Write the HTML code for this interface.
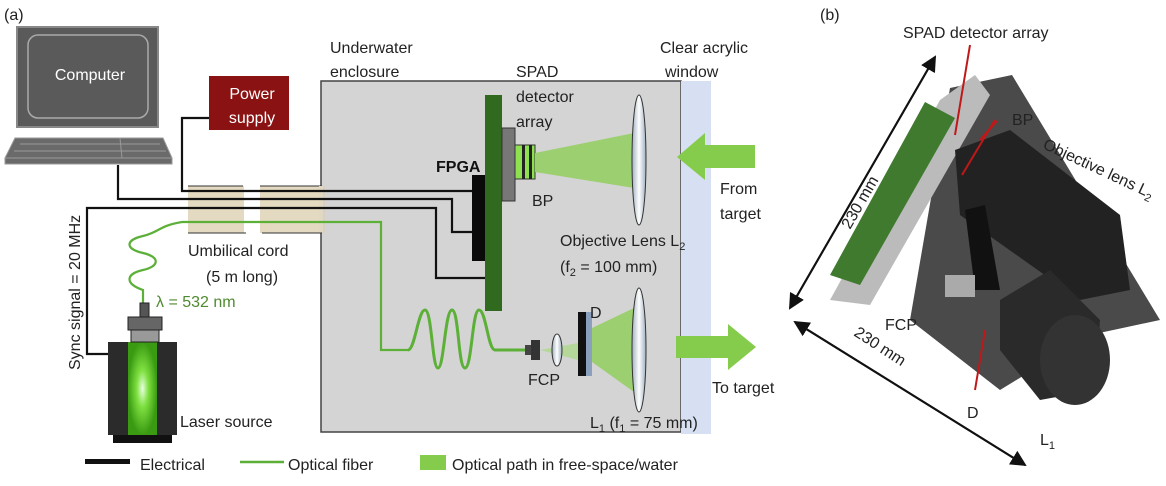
<!DOCTYPE html>
<html><head><meta charset="utf-8"><style>
html,body{margin:0;padding:0;background:#fff;}
svg{display:block;}
text{font-family:"Liberation Sans","DejaVu Sans",sans-serif;}
</style></head><body>
<svg width="1166" height="486" viewBox="0 0 1166 486" xmlns="http://www.w3.org/2000/svg">
<defs>
<linearGradient id="lens" x1="0" x2="1"><stop offset="0" stop-color="#9fb0c0"/><stop offset="0.5" stop-color="#ffffff"/><stop offset="1" stop-color="#9fb0c0"/></linearGradient>
<radialGradient id="las" cx="0.5" cy="0.5" r="0.5"><stop offset="0" stop-color="#e8ffe0"/><stop offset="0.4" stop-color="#7ee040"/><stop offset="1" stop-color="#3a9a12"/></radialGradient>
<marker id="ah" markerWidth="8" markerHeight="8" refX="7" refY="4" orient="auto"><path d="M0,0 L8,4 L0,8 z" fill="#111"/></marker>
</defs>
<text x="4" y="20" font-size="16" fill="#222">(a)</text>
<!-- computer -->
<rect x="17" y="27" width="141" height="100" fill="#5a5a5a" stroke="#888" stroke-width="2"/>
<rect x="28" y="35" width="120" height="83" rx="10" fill="#5a5a5a" stroke="#aaa" stroke-width="1.5"/>
<text x="90" y="80" font-size="16" fill="#fff" text-anchor="middle">Computer</text>
<path d="M15,138 L163,138 L172,158 L5,158 z" fill="#6a6a6a" stroke="#999"/>
<line x1="20" y1="144" x2="160" y2="144" stroke="#999"/><line x1="14" y1="151" x2="166" y2="151" stroke="#999"/>
<line x1="120" y1="138" x2="122" y2="158" stroke="#999"/>
<rect x="5" y="158" width="167" height="6" fill="#6a6a6a" stroke="#999"/>
<!-- power -->
<rect x="209" y="76" width="80" height="54" fill="#8a1212"/>
<text x="252" y="99" font-size="16" fill="#fff" text-anchor="middle">Power</text>
<text x="252" y="123" font-size="16" fill="#fff" text-anchor="middle">supply</text>
<!-- enclosure -->
<rect x="321" y="81" width="360" height="351" fill="#d4d4d4" stroke="#444" stroke-width="1.5"/>
<rect x="681" y="81" width="30" height="353" fill="#d6e0f2"/>
<!-- umbilical -->
<rect x="188" y="186" width="56" height="47" fill="#e4d9c1"/>
<rect x="260" y="186" width="62" height="47" fill="#e4d9c1"/>
<rect x="320" y="186" width="5" height="47" fill="#d8d1bf"/>
<path d="M188,186 L243,186 M260,186 L322,186 M188,233 L246,233 M262,233 L322,233" stroke="#333" stroke-width="1"/>
<rect x="319" y="186" width="4" height="46" fill="#e0d8c4"/>
<!-- wires -->
<g fill="none" stroke="#111" stroke-width="2.2">
<path d="M209,118 L182,118 L182,191 L472,191"/>
<path d="M118,165 L118,199 L452,199 L452,232 L472,232"/>
<path d="M108,354 L87,354 L87,208 L436,208 L436,278 L485,278"/>
</g>
<!-- fiber -->
<g fill="none" stroke="#5cb038" stroke-width="2.2">
<path d="M143,313 L143,290 C125,284 125,274 143,270 C160,266 160,257 143,253 C125,249 125,240 143,236 C160,232 158,226 182,222 L381,222 L381,350 L408,350"/>
<path d="M408,350 C415,350 418,310 425,310 C432,310 432,368 438,368 C444,368 445,310 452,310 C459,310 458,368 465,368 C472,368 472,310 479,310 C486,310 488,350 495,350 L525,350" stroke-width="3"/>
</g>
<!-- board -->
<rect x="472" y="175" width="13" height="86" fill="#0a0a0a"/>
<rect x="485" y="95" width="17" height="216" fill="#2f6a1f"/>
<rect x="502" y="128" width="13" height="73" fill="#777" stroke="#333"/>
<rect x="515" y="145" width="20" height="34" fill="#8fe050" stroke="#333"/>
<rect x="522" y="145" width="3" height="34" fill="#222"/><rect x="529" y="145" width="3" height="34" fill="#222"/>
<path d="M535,153 L634,133 L634,188 L535,172 z" fill="#9ccf70"/>
<ellipse cx="639" cy="160" rx="7" ry="65" fill="url(#lens)" stroke="#333"/>
<!-- lower optics -->
<rect x="525" y="345" width="8" height="10" fill="#444"/><rect x="531" y="340" width="9" height="20" fill="#333"/>
<path d="M540,350 L578,343 L578,360 z" fill="#b5d89a"/>
<ellipse cx="557" cy="350" rx="5" ry="16" fill="url(#lens)" stroke="#333"/>
<rect x="578" y="312" width="8" height="64" fill="#111"/><rect x="586" y="312" width="6" height="64" fill="#8aa0bc"/>
<path d="M592,328 L634,308 L634,392 L592,362 z" fill="#9ccf70"/>
<ellipse cx="639" cy="350" rx="7" ry="62" fill="url(#lens)" stroke="#333"/>
<!-- arrows -->
<path d="M755,145 L705,145 L705,133 L677,157 L705,180 L705,168 L755,168 z" fill="#86cc4c"/>
<path d="M676,336 L728,336 L728,324 L756,347 L728,370 L728,358 L676,358 z" fill="#86cc4c"/>
<!-- laser -->
<rect x="113" y="435" width="59" height="8" fill="#111"/>
<rect x="108" y="342" width="69" height="93" fill="#2b2b2b"/>
<rect x="128" y="342" width="29" height="93" fill="url(#las)"/>
<rect x="128" y="317" width="34" height="13" fill="#666" stroke="#222"/>
<rect x="131" y="330" width="28" height="12" fill="#999" stroke="#222"/>
<rect x="140" y="303" width="9" height="14" fill="#555" stroke="#222"/>
<!-- labels -->
<g font-size="16" fill="#222">
<text x="330" y="53">Underwater</text><text x="330" y="77">enclosure</text>
<text x="516" y="77">SPAD</text><text x="516" y="102">detector</text><text x="516" y="127">array</text>
<text x="436" y="172" font-weight="bold" fill="#111">FPGA</text>
<text x="532" y="206">BP</text>
<text x="660" y="53">Clear acrylic</text><text x="665" y="77">window</text>
<text x="720" y="194">From</text><text x="720" y="219">target</text>
<text x="560" y="246">Objective Lens L<tspan font-size="11" dy="4">2</tspan></text>
<text x="560" y="272">(f<tspan font-size="11" dy="4">2</tspan><tspan dy="-4"> = 100 mm)</tspan></text>
<text x="590" y="318">D</text>
<text x="528" y="385">FCP</text>
<text x="712" y="393">To target</text>
<text x="590" y="428">L<tspan font-size="11" dy="4">1</tspan><tspan dy="-4"> (f</tspan><tspan font-size="11" dy="4">1</tspan><tspan dy="-4"> = 75 mm)</tspan></text>
<text x="188" y="256">Umbilical cord</text><text x="206" y="282">(5 m long)</text>
<text x="156" y="307" fill="#4f8a30">λ = 532 nm</text>
<text x="180" y="427">Laser source</text>
<text transform="translate(80,370) rotate(-90)">Sync signal = 20 MHz</text>
<text x="140" y="470">Electrical</text>
<text x="288" y="470">Optical fiber</text>
<text x="452" y="470">Optical path in free-space/water</text>
</g>
<rect x="85" y="459" width="45" height="5" fill="#111"/>
<line x1="240" y1="462" x2="284" y2="462" stroke="#5cb038" stroke-width="2.5"/>
<rect x="420" y="455" width="26" height="15" fill="#86cc4c"/>
<!-- panel b -->
<text x="820" y="20" font-size="16" fill="#222">(b)</text>
<path d="M950,88 L1012,75 L1160,320 L1090,335 L1000,390 L910,320 z" fill="#4a4a4a"/>
<path d="M940,100 L975,75 L990,95 L870,305 L830,300 z" fill="#bbb"/>
<path d="M925,102 L955,118 L860,285 L830,275 z" fill="#3f7a2f"/>
<path d="M955,150 L1010,130 L1120,215 L1130,290 L1080,300 L960,215 z" fill="#222"/>
<path d="M1000,300 L1050,270 L1100,320 L1095,390 L1040,400 L1000,350 z" fill="#2a2a2a"/>
<ellipse cx="1075" cy="360" rx="35" ry="45" fill="#333"/>
<path d="M965,210 L985,205 L1000,290 L975,290 z" fill="#111"/>
<rect x="945" y="275" width="30" height="22" fill="#aaa"/>
<g stroke="#c01818" stroke-width="2" fill="none">
<path d="M970,45 L955,135"/><path d="M995,120 L962,175"/><path d="M997,121 L980,140"/><path d="M975,390 L985,330"/>
</g>
<line x1="790" y1="308" x2="935" y2="57" stroke="#111" stroke-width="2" marker-end="url(#ah)"/>
<line x1="935" y1="57" x2="790" y2="308" stroke="#111" stroke-width="2" marker-end="url(#ah)"/>
<line x1="795" y1="322" x2="1025" y2="465" stroke="#111" stroke-width="2" marker-end="url(#ah)"/>
<line x1="1025" y1="465" x2="795" y2="322" stroke="#111" stroke-width="2" marker-end="url(#ah)"/>
<g font-size="16" fill="#222">
<text x="903" y="38">SPAD detector array</text>
<text x="1012" y="125">BP</text>
<text x="1042" y="148" transform="rotate(25 1042 148)">Objective lens L<tspan font-size="11" dy="4">2</tspan></text>
<text x="850" y="230" transform="rotate(-60 850 230)">230 mm</text>
<text x="853" y="335" transform="rotate(33 853 335)">230 mm</text>
<text x="885" y="330">FCP</text>
<text x="967" y="418">D</text>
<text x="1040" y="445">L<tspan font-size="11" dy="4">1</tspan></text>
</g>
</svg>
</body></html>
